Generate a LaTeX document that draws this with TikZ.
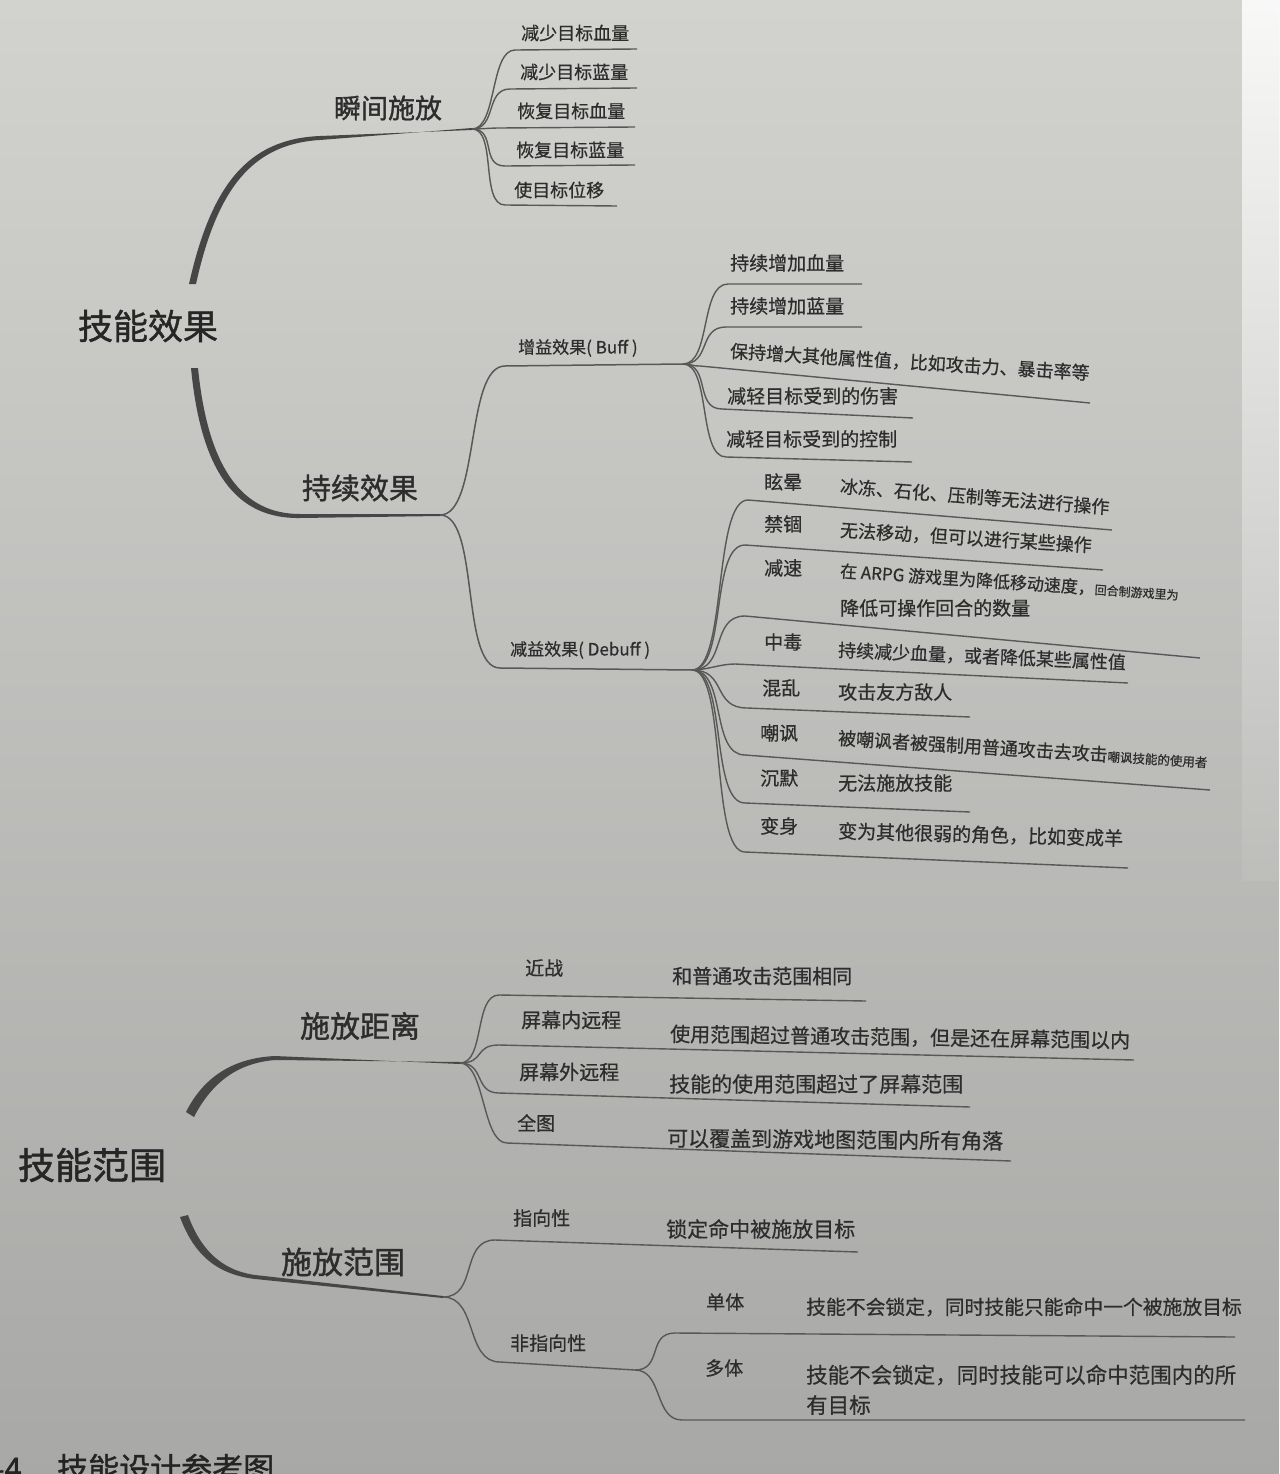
\documentclass[tikz,border=0pt]{standalone}
\usepackage{fontspec}
\setmainfont{Noto Sans CJK SC}[FakeBold=0.6]
\newfontfamily\rootf{Noto Sans CJK SC}[FakeBold=1.2]
\definecolor{bgtop}{RGB}{210,210,207}
\definecolor{bgbot}{RGB}{168,168,166}
\definecolor{txt}{RGB}{45,45,45}
\definecolor{ln}{RGB}{88,88,88}
\newcommand\fsz[1]{\fontsize{#1}{#1}\selectfont}
\begin{document}
\begin{tikzpicture}[x=1pt,y=-1pt,
  root/.style={font=\rootf\fsz{35}, text=txt!85!black, inner sep=0pt},
  lone/.style={font=\rootf\fsz{28}, text=txt, inner sep=0pt},
  leaf/.style={font=\fsz{18}, text=txt, inner sep=0pt, anchor=west},
  br/.style={draw=ln, line width=1.4pt},
  stem/.style={fill=ln!80!black},
]
\useasboundingbox (0,0) rectangle (1279,1474);
\shade[top color=bgtop,bottom color=bgbot] (0,0) rectangle (1279,1474);
\shade[top color=white!85!bgtop,bottom color=bgtop!50!bgbot] (1242,0) rectangle (1279,880);

% ================= top: 技能效果 =================
\node[root] (r1) at (148,326) {技能效果};
\node[lone,font=\rootf\fsz{27}] (k1) at (388,108) {瞬间施放};
\node[lone,font=\rootf\fsz{29}] (k2) at (360,488) {持续效果};
\coordinate (ba) at (472,129);
\coordinate (bb) at (440,515);
\fill[stem] (189,284) .. controls (211,186) and (247,139) .. (320,136) -- ([yshift=-1pt]ba) -- ([yshift=1pt]ba) -- (320,140) .. controls (252,144) and (217,189) .. (196,284) -- cycle;
\fill[stem] (191,368) .. controls (201,472) and (236,519) .. (300,518) -- ([yshift=-1pt]bb) -- ([yshift=1pt]bb) -- (300,514) .. controls (242,514) and (208,468) .. (198,368) -- cycle;

% 瞬间施放 leaves
\node[leaf] (a1) at (521,33) {减少目标血量};
\node[leaf] (a2) at (520,72) {减少目标蓝量};
\node[leaf] (a3) at (517,111) {恢复目标血量};
\node[leaf] (a4) at (516,150) {恢复目标蓝量};
\node[leaf] (a5) at (514,190) {使目标位移};
\coordinate (as1) at (515,50);  \coordinate (ae1) at (637,49);
\coordinate (as2) at (510,89);  \coordinate (ae2) at (637,88);
\coordinate (as3) at (500,128); \coordinate (ae3) at (635,127);
\coordinate (as4) at (505,166); \coordinate (ae4) at (635,165);
\coordinate (as5) at (505,205); \coordinate (ae5) at (617,206);
\foreach \i/\k in {1/25,2/25,3/10,4/25,5/25}
  \draw[br] (ba) .. controls +(\k,0) and +(-\k,0) .. (as\i) -- (ae\i);

% 持续效果 -> Buff / Debuff
\coordinate (bus) at (505,366); \coordinate (bc) at (683,364);
\coordinate (des) at (500,668); \coordinate (bd) at (692,670);
\draw[br,line width=1.5pt] (bb) .. controls +(40,0) and +(-40,0) .. (bus) -- (bc);
\draw[br,line width=1.5pt] (bb) .. controls +(40,0) and +(-40,0) .. (des) -- (bd);
\node[leaf,font=\fsz{17}] (buff) at (518,348) {增益效果( Buff )};
\node[leaf,font=\fsz{17}] (debuff) at (510,650) {减益效果( Debuff )};

% Buff leaves
\node[leaf,font=\fsz{19}] (c1) at (730,263) {持续增加血量};
\node[leaf,font=\fsz{19}] (c2) at (730,306) {持续增加蓝量};
\node[leaf,font=\fsz{18},rotate=-3.5] (c3) at (730,351) {保持增大其他属性值，比如攻击力、暴击率等};
\node[leaf,font=\fsz{19}] (c4) at (727,396) {减轻目标受到的伤害};
\node[leaf,font=\fsz{19}] (c5) at (726,439) {减轻目标受到的控制};
\coordinate (cs1) at (728,284); \coordinate (ce1) at (862,284);
\coordinate (cs2) at (726,327); \coordinate (ce2) at (862,327);
\coordinate (cs3) at (700,366); \coordinate (ce3) at (1090,403);
\coordinate (cs4) at (722,409); \coordinate (ce4) at (913,418);
\coordinate (cs5) at (726,457); \coordinate (ce5) at (912,462);
\foreach \i/\k in {1/28,2/28,3/10,4/28,5/28}
  \draw[br] (bc) .. controls +(\k,0) and +(-\k,0) .. (cs\i) -- (ce\i);

% Debuff leaves
\node[leaf,font=\fsz{19}] (d1) at (764,482) {眩晕};
\node[leaf,font=\fsz{19}] (d2) at (764,524) {禁锢};
\node[leaf,font=\fsz{19}] (d3) at (764,568) {减速};
\node[leaf,font=\fsz{19}] (d4) at (764,642) {中毒};
\node[leaf,font=\fsz{19}] (d5) at (762,688) {混乱};
\node[leaf,font=\fsz{19}] (d6) at (760,733) {嘲讽};
\node[leaf,font=\fsz{19}] (d7) at (760,778) {沉默};
\node[leaf,font=\fsz{19}] (d8) at (760,826) {变身};
\node[leaf,rotate=-4.5] (e1) at (840,486) {冰冻、石化、压制等无法进行操作};
\node[leaf,rotate=-3.5] (e2) at (840,530) {无法移动，但可以进行某些操作};
\node[leaf,font=\fsz{17},rotate=-3.8] (e3) at (840,571) {在 ARPG 游戏里为降低移动速度，{\fsz{12}回合制游戏里为}};
\node[leaf,font=\fsz{19}] (e3b) at (840,608) {降低可操作回合的数量};
\node[leaf,rotate=-2.5] (e4) at (838,650) {持续减少血量，或者降低某些属性值};
\node[leaf,font=\fsz{19}] (e5) at (838,692) {攻击友方敌人};
\node[leaf,rotate=-3.5] (e6) at (838,738) {被嘲讽者被强制用普通攻击去攻击{\fsz{12.5}嘲讽技能的使用者}};
\node[leaf,font=\fsz{19}] (e7) at (838,783) {无法施放技能};
\node[leaf,font=\fsz{19},rotate=-1.5] (e8) at (838,831) {变为其他很弱的角色，比如变成羊};
\coordinate (ds1) at (748,500); \coordinate (de1) at (1112,530);
\coordinate (ds2) at (745,545); \coordinate (de2) at (1103,570);
\coordinate (ds3) at (745,616); \coordinate (de3) at (1200,658);
\coordinate (ds4) at (735,664); \coordinate (de4) at (1128,683);
\coordinate (ds5) at (747,708); \coordinate (de5) at (970,717);
\coordinate (ds6) at (745,755); \coordinate (de6) at (1210,790);
\coordinate (ds7) at (745,803); \coordinate (de7) at (970,812);
\coordinate (ds8) at (745,852); \coordinate (de8) at (1128,868);
\foreach \i/\k in {1/35,2/35,3/35,4/15,5/35,6/35,7/35,8/35}
  \draw[br] (bd) .. controls +(\k,0) and +(-\k,0) .. (ds\i) -- (de\i);

% ================= bottom: 技能范围 =================
\node[root,font=\rootf\fsz{37}] (r2) at (92,1165) {技能范围};
\node[lone,font=\rootf\fsz{30}] (k3) at (360,1026) {施放距离};
\node[lone,font=\rootf\fsz{31}] (k4) at (343,1262) {施放范围};
\coordinate (bf) at (460,1063);
\coordinate (bh) at (443,1297);
\fill[stem] (186,1112) .. controls (203,1078) and (232,1058) .. (275,1056) -- ([yshift=-1pt]bf) -- ([yshift=1pt]bf) -- (275,1060) .. controls (238,1063) and (212,1082) .. (194,1117) -- cycle;
\fill[stem] (180,1217) .. controls (193,1252) and (214,1274) .. (255,1279) -- ([yshift=-1pt]bh) -- ([yshift=1pt]bh) -- (255,1275) .. controls (220,1270) and (200,1248) .. (188,1215) -- cycle;

% 施放距离 leaves
\node[leaf,font=\fsz{19}] (f1) at (525,968) {近战};
\node[leaf,font=\fsz{20}] (f2) at (521,1020) {屏幕内远程};
\node[leaf,font=\fsz{20}] (f3) at (519,1072) {屏幕外远程};
\node[leaf,font=\fsz{19}] (f4) at (517,1123) {全图};
\node[leaf,font=\fsz{20}] (g1) at (672,976) {和普通攻击范围相同};
\node[leaf,font=\fsz{20},rotate=-0.8] (g2) at (670,1034) {使用范围超过普通攻击范围，但是还在屏幕范围以内};
\node[leaf,font=\fsz{21}] (g3) at (669,1084) {技能的使用范围超过了屏幕范围};
\node[leaf,font=\fsz{21},rotate=-0.5] (g4) at (667,1138) {可以覆盖到游戏地图范围内所有角落};
\coordinate (fs1) at (499,995);  \coordinate (fe1) at (866,1001);
\coordinate (fs2) at (499,1045); \coordinate (fe2) at (1134,1060);
\coordinate (fs3) at (499,1093); \coordinate (fe3) at (970,1107);
\coordinate (fs4) at (507,1143); \coordinate (fe4) at (1011,1161);
\foreach \i in {1,2,3,4}
  \draw[br] (bf) .. controls +(25,0) and +(-25,0) .. (fs\i) -- (fe\i);

% 施放范围 leaves
\node[leaf,font=\fsz{19}] (h1) at (513,1218) {指向性};
\node[leaf,font=\fsz{21}] (i1) at (666,1229) {锁定命中被施放目标};
\node[leaf,font=\fsz{19}] (h2) at (510,1343) {非指向性};
\coordinate (hs1) at (495,1240); \coordinate (he1) at (858,1252);
\coordinate (hs2) at (500,1362); \coordinate (bj) at (635,1370);
\draw[br] (bh) .. controls +(35,0) and +(-35,0) .. (hs1) -- (he1);
\draw[br] (bh) .. controls +(35,0) and +(-35,0) .. (hs2) -- (bj);

\node[leaf,font=\fsz{19}] (j1) at (706,1302) {单体};
\node[leaf,font=\fsz{19.8}] (m1) at (806,1307) {技能不会锁定，同时技能只能命中一个被施放目标};
\node[leaf,font=\fsz{19}] (j2) at (705,1368) {多体};
\node[leaf,font=\fsz{21.5}] (m2) at (806,1375) {技能不会锁定，同时技能可以命中范围内的所};
\node[leaf,font=\fsz{21.5}] (m2b) at (806,1405) {有目标};
\coordinate (js1) at (675,1333); \coordinate (je1) at (1235,1337);
\coordinate (js2) at (682,1420); \coordinate (je2) at (1245,1420);
\draw[br] (bj) .. controls +(28,0) and +(-28,0) .. (js1) -- (je1);
\draw[br] (bj) .. controls +(28,0) and +(-28,0) .. (js2) -- (je2);

% caption, cut by the page edge
\begin{scope}
\clip (0,0) rectangle (1279,1474);
\node[anchor=base west, font=\rootf\fsz{31}, text=txt!80!black, inner sep=0pt] (cap) at (57,1480) {技能设计参考图};
\node[anchor=base east, font=\rootf\fsz{31}, text=txt!80!black, inner sep=0pt] (capn) at (22,1480) {-4};
\end{scope}
\end{tikzpicture}
\end{document}
